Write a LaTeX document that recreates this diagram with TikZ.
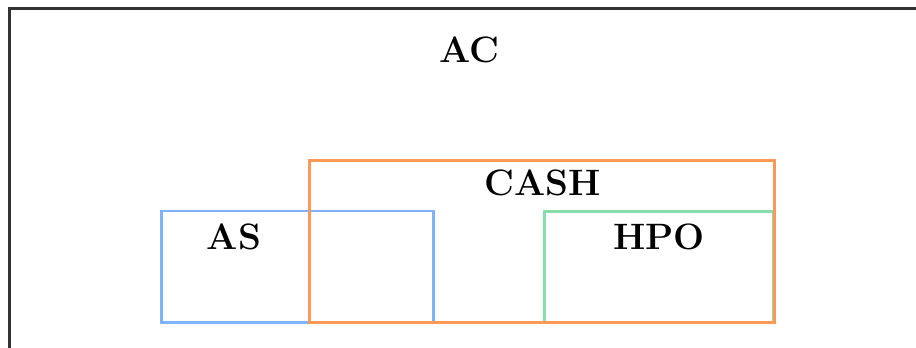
\documentclass[tikz,border=0pt]{standalone}
\usepackage{tikz}

\definecolor{acgray}{HTML}{333333}
\definecolor{asblue}{HTML}{80B3FF}
\definecolor{cashorange}{HTML}{FF9955}
\definecolor{hpogreen}{HTML}{87DEAA}

\begin{document}
\begin{tikzpicture}[x=0.343pt,y=-0.343pt]
    \def\u{0.343pt}


    \tikzstyle{frame}=[draw,line width=1pt,inner sep=0pt,outer sep=0pt]
    \tikzstyle{title}=[font=\fontsize{12.6}{15}\selectfont\bfseries,inner sep=0pt]

    \path[use as bounding box,clip] (0,0) rectangle (916,347);

    \node[frame,draw=acgray,line width=1.35pt,anchor=north west,minimum width=1000*\u,minimum height=400*\u] (acbox) at (9.5,8.5) {};
    \node[frame,draw=asblue,minimum width=272*\u,minimum height=111.3*\u] (asbox) at (297.3,266.6) {};
    \node[frame,draw=hpogreen,minimum width=229*\u,minimum height=111*\u] (hpobox) at (658.8,266.7) {};
    \node[frame,draw=cashorange,minimum width=465.3*\u,minimum height=162.3*\u] (cashbox) at (542.3,241.2) {};

    \node[title] (ac) at (469,49.5) {AC};
    \node[title] (cash) at (542.5,183) {CASH};
    \node[title] (as) at (234,237) {AS};
    \node[title] (hpo) at (659,237) {HPO};
\end{tikzpicture}
\end{document}
